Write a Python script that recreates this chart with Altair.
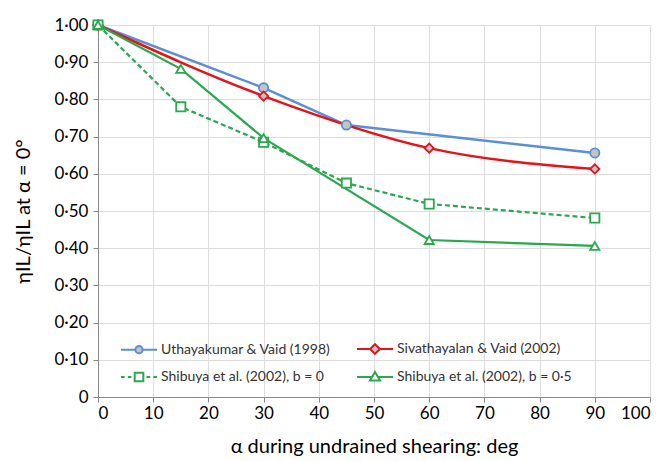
import altair as alt
import pandas as pd

series_names = [
    "Uthayakumar & Vaid (1998)",
    "Sivathayalan & Vaid (2002)",
    "Shibuya et al. (2002), b = 0",
    "Shibuya et al. (2002), b = 0·5",
]
colors = ["#5b8fd3", "#e3141b", "#2aa84f", "#2aa84f"]
fills = ["#c4c4c4", "#c4c4c4", "#ffffff", "#ffffff"]
shapes = ["circle", "diamond", "square", "triangle-up"]
interps = ["linear", "monotone", "linear", "linear"]
dashes = [None, None, [5, 3], None]

alpha_u = [0, 30, 45, 90]
ratio_u = [1.00, 0.831, 0.731, 0.656]
alpha_s = [0, 30, 60, 90]
ratio_s = [1.00, 0.809, 0.669, 0.613]
alpha_b0 = [0, 15, 30, 45, 60, 90]
ratio_b0 = [1.00, 0.780, 0.685, 0.575, 0.519, 0.481]
alpha_b05 = [0, 15, 30, 60, 90]
ratio_b05 = [1.00, 0.882, 0.696, 0.422, 0.406]

x_ticks = list(range(0, 101, 10))
y_ticks = [round(i * 0.1, 1) for i in range(11)]

rows = []
for name, xs, ys in zip(series_names,
                        [alpha_u, alpha_s, alpha_b0, alpha_b05],
                        [ratio_u, ratio_s, ratio_b0, ratio_b05]):
    for a, r in zip(xs, ys):
        rows.append({"series": name, "alpha": a, "ratio": r})
df = pd.DataFrame(rows)

legend_paths = [
    "M-1,0H-0.2M0.2,0H1M0.2,0A0.2,0.2 0 1,1 -0.2,0A0.2,0.2 0 1,1 0.2,0Z",
    "M-1,0H-0.27M0.27,0H1M0,-0.27L0.27,0L0,0.27L-0.27,0Z",
    "M-1,0H-0.8M-0.62,0H-0.42M0.42,0H0.62M0.8,0H1M-0.24,-0.24H0.24V0.24H-0.24Z",
    "M-1,0H-0.2M0.2,0H1M0,-0.28L0.28,0.2H-0.28Z",
]

FONT = "Lato"

x_enc = alt.X("alpha:Q", scale=alt.Scale(domain=[0, 100], nice=False),
              axis=alt.Axis(values=x_ticks, title="α during undrained shearing: deg",
                            titleFontWeight="normal", titleFontSize=20, titlePadding=15,
                            labelFontSize=17, labelPadding=3))
y_enc = alt.Y("ratio:Q", scale=alt.Scale(domain=[0, 1], nice=False),
              axis=alt.Axis(values=y_ticks, title="ηIL/ηIL at α = 0°",
                            titleFontWeight="normal", titleFontSize=20, titlePadding=20,
                            labelFontSize=17, labelPadding=5,
                            labelExpr="datum.value == 0 ? '0' : replace(format(datum.value, '.2f'), '.', '·')"))

legend = alt.Legend(
    title=None, orient="none", legendX=22, legendY=305, columns=2, direction="horizontal",
    columnPadding=22, rowPadding=-20, padding=0,
    labelFontSize=14, labelColor="#333333", labelLimit=400, labelOffset=3, labelFont=FONT,
    symbolSize=1296, symbolStrokeWidth=2, symbolOpacity=1,
)

layers = []
for i, name in enumerate(series_names):
    base = alt.Chart(df).transform_filter(alt.datum.series == name)
    line_kwargs = dict(interpolate=interps[i], strokeWidth=2.5 if i < 2 else 2.2,
                       color=colors[i])
    if dashes[i] is not None:
        line_kwargs["strokeDash"] = dashes[i]
    layers.append(base.mark_line(**line_kwargs).encode(x=x_enc, y=y_enc))
for i, name in enumerate(series_names):
    base = alt.Chart(df).transform_filter(alt.datum.series == name)
    layers.append(base.mark_point(shape=shapes[i], size=85, strokeWidth=1.8, opacity=1,
                                  fillOpacity=1, stroke=colors[i], fill=fills[i],
                                  filled=False).encode(x=x_enc, y=y_enc))

legend_layer = alt.Chart(df).transform_filter("datum.alpha < 0").mark_point(
    strokeWidth=2, opacity=1, fillOpacity=1
).encode(
    x=x_enc, y=y_enc,
    stroke=alt.Stroke("series:N", scale=alt.Scale(domain=series_names, range=colors), legend=legend),
    fill=alt.Fill("series:N", scale=alt.Scale(domain=series_names, range=fills), legend=legend),
    shape=alt.Shape("series:N", scale=alt.Scale(domain=series_names, range=legend_paths), legend=legend),
)
layers.append(legend_layer)

chart = alt.layer(*layers).properties(
    width=552, height=372,
    autosize=alt.AutoSizeParams(type="none"),
    padding={"left": 90, "top": 17, "right": 10, "bottom": 64},
).configure_view(stroke=None).configure_axis(
    grid=False, domainColor="#777777", domainWidth=1.5, tickColor="#777777",
    tickWidth=1.5, tickSize=5, labelColor="#333333", titleColor="#333333",
    labelFont=FONT, titleFont=FONT,
).configure(background="white", font=FONT)

chart.save("out.html", embed_options={"renderer": "svg", "actions": False})
